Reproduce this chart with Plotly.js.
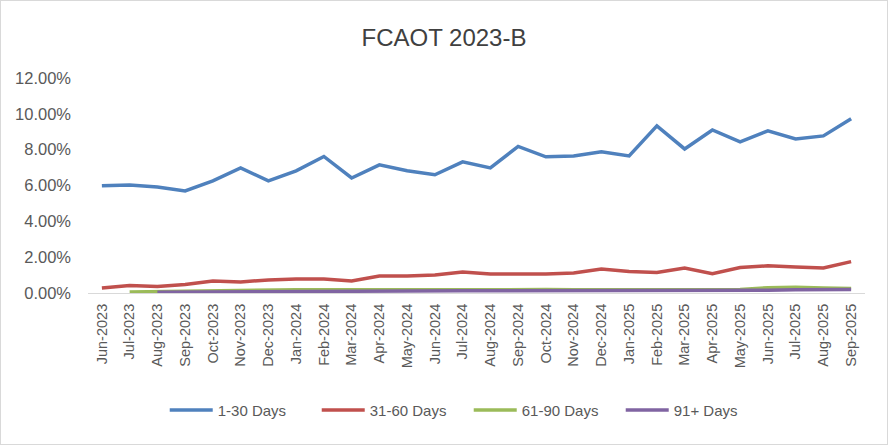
<!DOCTYPE html>
<html><head><meta charset="utf-8">
<script src="https://cdn.plot.ly/plotly-3.0.1.min.js"></script>
<style>html,body{margin:0;padding:0;background:#fff}#c{width:888px;height:445px}
#frame{position:absolute;left:0;top:0;width:886px;height:443px;border:1px solid #d9d9d9;pointer-events:none}</style>
</head><body><div id="c"></div><div id="frame"></div>
<script>
const months = ["Jun-2023","Jul-2023","Aug-2023","Sep-2023","Oct-2023","Nov-2023","Dec-2023","Jan-2024","Feb-2024","Mar-2024","Apr-2024","May-2024","Jun-2024","Jul-2024","Aug-2024","Sep-2024","Oct-2024","Nov-2024","Dec-2024","Jan-2025","Feb-2025","Mar-2025","Apr-2025","May-2025","Jun-2025","Jul-2025","Aug-2025","Sep-2025"];
const d1_30 = [5.98,6.03,5.92,5.70,6.26,6.98,6.26,6.82,7.62,6.42,7.15,6.82,6.60,7.32,6.98,8.18,7.60,7.65,7.88,7.65,9.33,8.04,9.10,8.44,9.05,8.60,8.77,9.72];
const d31_60 = [0.28,0.42,0.36,0.48,0.67,0.62,0.73,0.78,0.78,0.67,0.95,0.95,1.00,1.17,1.06,1.06,1.06,1.12,1.34,1.20,1.14,1.40,1.08,1.42,1.52,1.45,1.40,1.75];
const d61_90 = [null,0.05,0.08,0.10,0.12,0.14,0.16,0.18,0.18,0.17,0.18,0.20,0.19,0.18,0.18,0.20,0.19,0.18,0.18,0.18,0.18,0.18,0.18,0.20,0.30,0.32,0.28,0.25];
const d91 = [null,null,0.04,0.05,0.05,0.06,0.08,0.10,0.12,0.13,0.14,0.14,0.14,0.13,0.13,0.13,0.12,0.12,0.12,0.12,0.12,0.12,0.12,0.14,0.16,0.18,0.19,0.20];
const names = ["1-30 Days","31-60 Days","61-90 Days","91+ Days"];
const colors = ["#4f81bd","#c0504d","#9bbb59","#8064a2"];
const series = [d1_30,d31_60,d61_90,d91];
const traces = series.map((s,i)=>({x:months,y:s,type:"scatter",mode:"lines",name:names[i],
  line:{color:colors[i],width:3.5},connectgaps:false}));
const layout = {
  width:888,height:445,
  margin:{l:88,r:23,t:78,b:152},
  paper_bgcolor:"#fff",plot_bgcolor:"#fff",
  title:{text:"FCAOT 2023-B",x:0.5,xanchor:"center",y:0.915,yanchor:"middle",font:{family:"Liberation Sans, Arial",size:24,color:"#404040"}},
  font:{family:"Liberation Sans, Arial",color:"#595959"},
  xaxis:{type:"category",range:[-0.5,27.5],tickangle:-90,tickfont:{size:14.5,color:"#595959"},
    showgrid:false,showline:true,linecolor:"#d9d9d9",linewidth:1,ticks:"",zeroline:false,fixedrange:true,ticklabelstandoff:4},
  yaxis:{range:[0,12],dtick:2,tickformat:".2f",ticksuffix:"%",tickfont:{size:16.5,color:"#595959"},
    showgrid:false,zeroline:false,showline:false,ticks:"",fixedrange:true,ticklabelstandoff:16},
  legend:{orientation:"h",x:0.49,xanchor:"center",y:-0.545,yanchor:"middle",font:{size:15,color:"#595959"},
    itemwidth:43,tracegroupgap:0,entrywidth:94,entrywidthmode:"pixels"},
  showlegend:true
};
Plotly.newPlot("c",traces,layout,{displayModeBar:false,staticPlot:true});
</script></body></html>
